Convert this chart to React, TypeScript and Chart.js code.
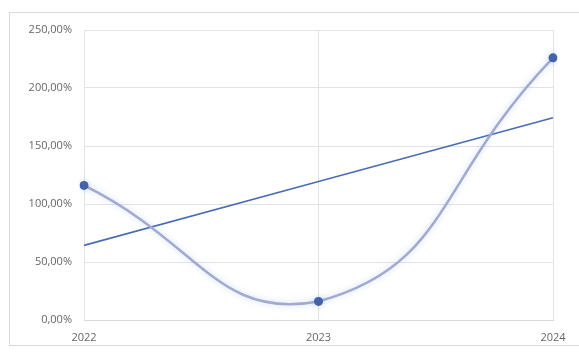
import React, { useEffect, useRef } from "react";
import { Chart, registerables } from "chart.js";

Chart.register(...registerables);

// Yearly growth rates (percent)
const years: string[] = ["2022", "2023", "2024"];
const growth: number[] = [116, 16, 226];
const yTicks: number[] = [0, 50, 100, 150, 200, 250];

// Least-squares linear trend of the growth series
function linearTrend(values: number[]): number[] {
  const n = values.length;
  const xs = values.map((_, i) => i);
  const mx = xs.reduce((a, b) => a + b, 0) / n;
  const my = values.reduce((a, b) => a + b, 0) / n;
  let num = 0;
  let den = 0;
  xs.forEach((x, i) => {
    num += (x - mx) * (values[i] - my);
    den += (x - mx) * (x - mx);
  });
  const slope = num / den;
  return xs.map((x) => my + slope * (x - mx));
}

const fmtPct = (v: number) => v.toFixed(2).replace(".", ",") + "%";

// Soft halo drawn under the smoothed series line
const glowPlugin = {
  id: "seriesGlow",
  beforeDatasetDraw(chart: any, args: any) {
    if (args.index !== 1) return;
    const ctx = chart.ctx;
    ctx.save();
    ctx.shadowColor = "rgba(120,160,230,0.4)";
    ctx.shadowBlur = 6;
  },
  afterDatasetDraw(chart: any, args: any) {
    if (args.index !== 1) return;
    chart.ctx.restore();
  },
};

const tickFont = { family: "'Open Sans', sans-serif", size: 11 };

export default function App() {
  const canvasRef = useRef<HTMLCanvasElement>(null);

  useEffect(() => {
    if (!canvasRef.current) return;
    const trend = linearTrend(growth);
    const chart = new Chart(canvasRef.current, {
      type: "line",
      data: {
        labels: years,
        datasets: [
          {
            label: "Linear trend",
            data: trend,
            borderColor: "#4a6cb5",
            borderWidth: 1.6,
            pointRadius: 0,
            tension: 0,
            fill: false,
            order: 2,
          },
          {
            label: "Growth",
            data: growth,
            borderColor: "#a2aad0",
            borderWidth: 2.5,
            tension: 0.5,
            pointRadius: 4.5,
            pointBackgroundColor: "#4462a8",
            pointBorderColor: "#4462a8",
            pointBorderWidth: 0,
            fill: false,
            order: 1,
          },
        ],
      },
      options: {
        animation: false,
        responsive: false,
        maintainAspectRatio: false,
        layout: { padding: { top: 30, right: 26, bottom: 0, left: 0 } },
        plugins: {
          legend: { display: false },
          tooltip: { enabled: false },
        },
        scales: {
          x: {
            offset: false,
            grid: { color: "#e3e3e3", drawTicks: false, lineWidth: 1 },
            border: { color: "#d9d9d9" },
            ticks: {
              color: "#666666",
              font: tickFont,
              padding: 11,
              maxRotation: 0,
            },
            afterFit(scale: any) {
              scale.height = 32;
            },
          },
          y: {
            min: 0,
            max: 250,
            afterBuildTicks(scale: any) {
              scale.ticks = yTicks.map((v) => ({ value: v }));
            },
            grid: { color: "#e3e3e3", drawTicks: false, lineWidth: 1 },
            border: { display: false },
            ticks: {
              color: "#666666",
              font: tickFont,
              padding: 12,
              callback: (v: any) => fmtPct(Number(v)),
            },
            afterFit(scale: any) {
              scale.width = 84;
            },
          },
        },
      },
      plugins: [glowPlugin],
    });
    return () => chart.destroy();
  }, []);

  return (
    <div style={{ position: "fixed", left: 0, top: 0, width: 579, height: 352, background: "#ffffff", overflow: "hidden" }}>
      <div
        style={{
          position: "absolute",
          left: 9,
          top: 12,
          width: 600,
          height: 334,
          border: "1px solid #d9d9d9",
          boxSizing: "border-box",
        }}
      />
      <canvas ref={canvasRef} width={579} height={352} style={{ position: "absolute", left: 0, top: 0 }} />
    </div>
  );
}
